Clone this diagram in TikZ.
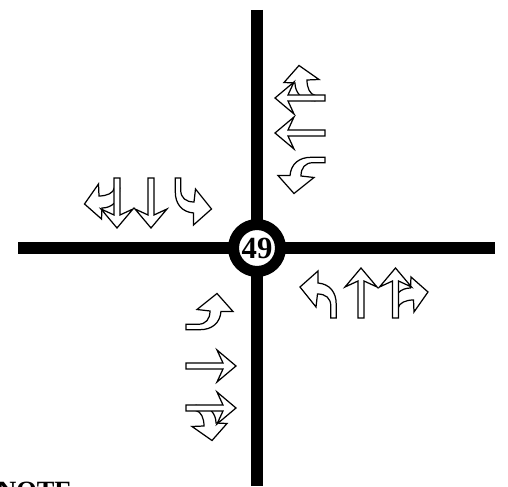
\documentclass[tikz,border=0pt]{standalone}
\usepackage{fontspec}
\setmainfont{Liberation Serif}
\tikzset{
  road/.style={line width=0.24cm},
  laneline/.style={line width=0.7pt,line join=miter,black},
  hub/.style={circle,draw=black,fill=white,line width=0.22cm,inner sep=0,minimum size=0.94cm,font=\fontsize{17.5}{17.5}\selectfont\bfseries},
}
\newcommand\thrulane[2]{{%
  \draw[laneline,fill=white,shift={(#1)},rotate=#2] (-3,0) -- (-3,37) -- (-16,31) -- (0,50) -- (16,31) -- (3,37) -- (3,0) -- cycle;}}
\newcommand\leftlane[2]{{%
  \draw[laneline,shift={(#1)},rotate=#2] (-2.7,0) -- (-2.7,12) .. controls (-2.7,20) and (-8,24) .. (-16,24)
    -- (-17.5,11) -- (-33.5,31) -- (-15.5,47) -- (-15.5,35) .. controls (-4,34) and (2.7,26) .. (2.7,14) -- (2.7,0) -- cycle;}}
\newcommand\rightlane[2]{{%
  \draw[laneline,shift={(#1)},rotate=#2] (2.7,10) .. controls (3.5,15) and (10,18) .. (18,18)
    -- (18.5,6) -- (32.5,26) -- (15.5,41) -- (15,30) .. controls (6,30) and (-2.7,24) .. (-2.7,10) -- cycle;}}

\begin{document}
\begin{tikzpicture}[x=0.02cm,y=0.02cm]
\useasboundingbox (0,0) rectangle (508,487);
% ---------- roads and signal number ----------
\coordinate (roadN) at (257,477);
\coordinate (roadS) at (257,1);
\coordinate (roadW) at (18,239);
\coordinate (roadE) at (495,239);
\draw[road] (roadN) -- (roadS);
\draw[road] (roadW) -- (roadE);
\node[hub] (signal) at (257,239) {49};
% ---------- east arm, lanes pointing up ----------
\leftlane{333.5,169}{0}
\thrulane{361,169}{0}
\rightlane{395.5,169}{0}\thrulane{395.5,169}{0}
% ---------- west arm, lanes pointing right ----------
\leftlane{186,160}{-90}
\thrulane{186,121}{-90}
\rightlane{186,79}{-90}\thrulane{186,79}{-90}
% ---------- north arm, lanes pointing left ----------
\rightlane{325,389}{90}\thrulane{325,389}{90}
\thrulane{325,354}{90}
\leftlane{325,327}{90}
% ---------- south arm, lanes pointing down ----------
\rightlane{117,309}{180}\thrulane{117,309}{180}
\thrulane{151,309}{180}
\leftlane{178,309}{180}
% ---------- note, runs off the page ----------
\node[anchor=base west,inner sep=0,font=\fontsize{15}{15}\selectfont\bfseries] (note) at (-3,-12.5) {NOTE};
\end{tikzpicture}
\end{document}
